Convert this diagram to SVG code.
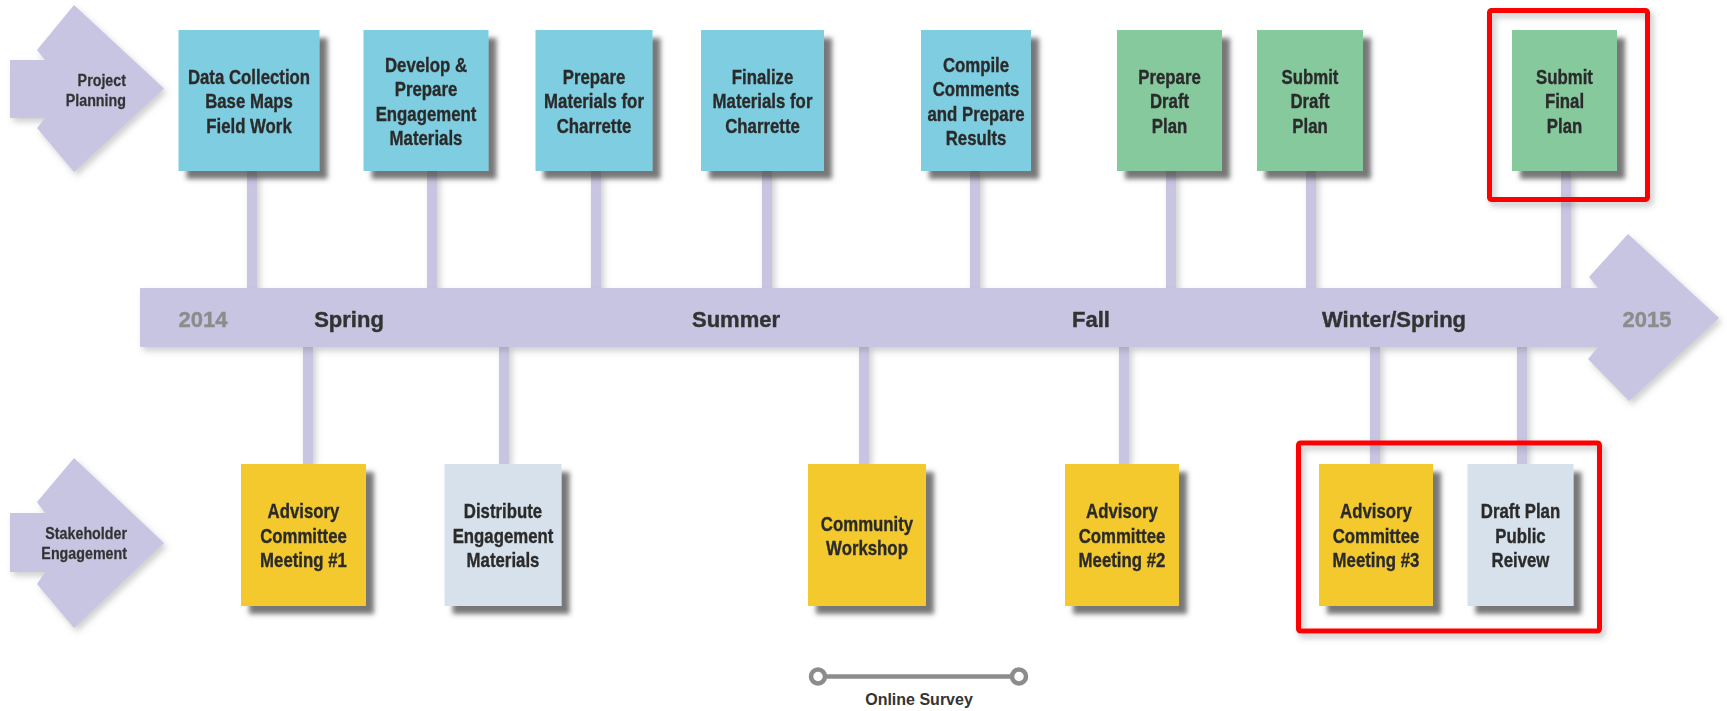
<svg xmlns="http://www.w3.org/2000/svg" width="1727" height="711" viewBox="0 0 1727 711">
<defs>
<filter id="boxShadow" x="-20%" y="-20%" width="150%" height="150%">
<feGaussianBlur in="SourceAlpha" stdDeviation="2.5" result="b"/>
<feOffset in="b" dx="8" dy="8" result="o"/>
<feFlood flood-color="#4a4a4a" flood-opacity="0.75"/>
<feComposite in2="o" operator="in" result="s"/>
<feMerge><feMergeNode in="s"/><feMergeNode in="SourceGraphic"/></feMerge>
</filter>
<filter id="softShadow" x="-10%" y="-10%" width="130%" height="130%">
<feGaussianBlur in="SourceAlpha" stdDeviation="3" result="b"/>
<feOffset in="b" dx="3" dy="4" result="o"/>
<feFlood flood-color="#777" flood-opacity="0.35"/>
<feComposite in2="o" operator="in" result="s"/>
<feMerge><feMergeNode in="s"/><feMergeNode in="SourceGraphic"/></feMerge>
</filter>
<filter id="redShadow" x="-10%" y="-10%" width="130%" height="130%">
<feGaussianBlur in="SourceAlpha" stdDeviation="3" result="b"/>
<feOffset in="b" dx="3" dy="4" result="o"/>
<feFlood flood-color="#666" flood-opacity="0.4"/>
<feComposite in2="o" operator="in" result="s"/>
<feMerge><feMergeNode in="s"/><feMergeNode in="SourceGraphic"/></feMerge>
</filter>
</defs>
<style>
.lav{fill:#c8c5e3}
.stem{fill:#c8c5e3}
.blue{fill:#7ecde0}
.green{fill:#85c99d}
.yellow{fill:#f3c92f}
.grey{fill:#d6e1eb}
.bt{font-family:"Liberation Sans",Arial,sans-serif;font-weight:bold;font-size:20px;fill:#2b2b2b;stroke:#2b2b2b;stroke-width:0.35;text-anchor:middle}
.at{font-family:"Liberation Sans",Arial,sans-serif;font-weight:bold;font-size:17px;fill:#333;stroke:#333;stroke-width:0.25;text-anchor:end}
.season{font-family:"Liberation Sans",Arial,sans-serif;font-weight:bold;font-size:22px;fill:#333;stroke:#333;stroke-width:0.4;text-anchor:middle}
.year{font-family:"Liberation Sans",Arial,sans-serif;font-weight:bold;font-size:22px;fill:#8c8c8c;stroke:#8c8c8c;stroke-width:0.4;text-anchor:middle}
.red{fill:none;stroke:#ff0000;stroke-width:5}
.survey{fill:none;stroke:#8c8c8c;stroke-width:4.5}
.st{font-family:"Liberation Sans",Arial,sans-serif;font-weight:bold;font-size:16px;fill:#333;text-anchor:middle}
</style>
<rect width="1727" height="711" fill="#ffffff"/>

<g id="lane-project-planning" filter="url(#softShadow)">
<polygon class="lav" points="10,60 45,60 37,50 74,5 164,88.5 74,172 37,128 45,118 10,118"/>
<g transform="translate(126 0) scale(0.84 1)">
<text class="at" x="0" y="86">Project</text>
<text class="at" x="0" y="106.5">Planning</text>
</g>
</g>
<g id="lane-stakeholder-engagement" filter="url(#softShadow)">
<polygon class="lav" points="10,513 45,513 37,502 74,458 164,543 74,628 37,584 45,572 10,572"/>
<g transform="translate(127 0) scale(0.84 1)">
<text class="at" x="0" y="539">Stakeholder</text>
<text class="at" x="0" y="559.5">Engagement</text>
</g>
</g>

<g id="connectors" filter="url(#softShadow)">
<rect class="stem" x="247" y="171" width="10" height="119"/>
<rect class="stem" x="427" y="171" width="10" height="119"/>
<rect class="stem" x="591" y="171" width="10" height="119"/>
<rect class="stem" x="762" y="171" width="10" height="119"/>
<rect class="stem" x="970" y="171" width="10" height="119"/>
<rect class="stem" x="1166" y="171" width="10" height="119"/>
<rect class="stem" x="1306" y="171" width="10" height="119"/>
<rect class="stem" x="1561" y="171" width="10" height="119"/>
<rect class="stem" x="303" y="345" width="10" height="119"/>
<rect class="stem" x="499" y="345" width="10" height="119"/>
<rect class="stem" x="859" y="345" width="10" height="119"/>
<rect class="stem" x="1119" y="345" width="10" height="119"/>
<rect class="stem" x="1370" y="345" width="10" height="119"/>
<rect class="stem" x="1517" y="345" width="10" height="119"/>
</g>

<g id="timeline" filter="url(#softShadow)">
<polygon class="lav" points="140,288 1598,288 1589,277 1628,234 1719,318 1629,401 1588,359 1598,347 140,347"/>
<text class="year" x="203" y="327">2014</text>
<text class="season" x="349" y="327">Spring</text>
<text class="season" x="736" y="327">Summer</text>
<text class="season" x="1091" y="327">Fall</text>
<text class="season" x="1394" y="327">Winter/Spring</text>
<text class="year" x="1647" y="327">2015</text>
</g>

<g id="data-collection" filter="url(#boxShadow)">
<rect class="blue" x="178.5" y="30" width="141" height="141"/>
<g transform="translate(249 0) scale(0.84 1)">
<text class="bt" x="0" y="84">Data Collection</text>
<text class="bt" x="0" y="108.5">Base Maps</text>
<text class="bt" x="0" y="133">Field Work</text>
</g>
</g>
<g id="develop-materials" filter="url(#boxShadow)">
<rect class="blue" x="363.5" y="30" width="125" height="141"/>
<g transform="translate(426 0) scale(0.84 1)">
<text class="bt" x="0" y="71.75">Develop &amp;</text>
<text class="bt" x="0" y="96.25">Prepare</text>
<text class="bt" x="0" y="120.75">Engagement</text>
<text class="bt" x="0" y="145.25">Materials</text>
</g>
</g>
<g id="prepare-charrette" filter="url(#boxShadow)">
<rect class="blue" x="535.5" y="30" width="117" height="141"/>
<g transform="translate(594 0) scale(0.84 1)">
<text class="bt" x="0" y="84">Prepare</text>
<text class="bt" x="0" y="108.5">Materials for</text>
<text class="bt" x="0" y="133">Charrette</text>
</g>
</g>
<g id="finalize-charrette" filter="url(#boxShadow)">
<rect class="blue" x="701" y="30" width="123" height="141"/>
<g transform="translate(762.5 0) scale(0.84 1)">
<text class="bt" x="0" y="84">Finalize</text>
<text class="bt" x="0" y="108.5">Materials for</text>
<text class="bt" x="0" y="133">Charrette</text>
</g>
</g>
<g id="compile-comments" filter="url(#boxShadow)">
<rect class="blue" x="921" y="30" width="110" height="141"/>
<g transform="translate(976 0) scale(0.84 1)">
<text class="bt" x="0" y="71.75">Compile</text>
<text class="bt" x="0" y="96.25">Comments</text>
<text class="bt" x="0" y="120.75">and Prepare</text>
<text class="bt" x="0" y="145.25">Results</text>
</g>
</g>
<g id="prepare-draft-plan" filter="url(#boxShadow)">
<rect class="green" x="1117" y="30" width="105" height="141"/>
<g transform="translate(1169.5 0) scale(0.84 1)">
<text class="bt" x="0" y="84">Prepare</text>
<text class="bt" x="0" y="108.5">Draft</text>
<text class="bt" x="0" y="133">Plan</text>
</g>
</g>
<g id="submit-draft-plan" filter="url(#boxShadow)">
<rect class="green" x="1257" y="30" width="106" height="141"/>
<g transform="translate(1310 0) scale(0.84 1)">
<text class="bt" x="0" y="84">Submit</text>
<text class="bt" x="0" y="108.5">Draft</text>
<text class="bt" x="0" y="133">Plan</text>
</g>
</g>
<g id="submit-final-plan" filter="url(#boxShadow)">
<rect class="green" x="1512" y="30" width="105" height="141"/>
<g transform="translate(1564.5 0) scale(0.84 1)">
<text class="bt" x="0" y="84">Submit</text>
<text class="bt" x="0" y="108.5">Final</text>
<text class="bt" x="0" y="133">Plan</text>
</g>
</g>

<g id="advisory-1" filter="url(#boxShadow)">
<rect class="yellow" x="241" y="464" width="125" height="142"/>
<g transform="translate(303.5 0) scale(0.84 1)">
<text class="bt" x="0" y="518.5">Advisory</text>
<text class="bt" x="0" y="543">Committee</text>
<text class="bt" x="0" y="567.5">Meeting #1</text>
</g>
</g>
<g id="distribute-materials" filter="url(#boxShadow)">
<rect class="grey" x="444.5" y="464" width="117" height="142"/>
<g transform="translate(503 0) scale(0.84 1)">
<text class="bt" x="0" y="518.5">Distribute</text>
<text class="bt" x="0" y="543">Engagement</text>
<text class="bt" x="0" y="567.5">Materials</text>
</g>
</g>
<g id="community-workshop" filter="url(#boxShadow)">
<rect class="yellow" x="808" y="464" width="118" height="142"/>
<g transform="translate(867 0) scale(0.84 1)">
<text class="bt" x="0" y="530.75">Community</text>
<text class="bt" x="0" y="555.25">Workshop</text>
</g>
</g>
<g id="advisory-2" filter="url(#boxShadow)">
<rect class="yellow" x="1065" y="464" width="114" height="142"/>
<g transform="translate(1122 0) scale(0.84 1)">
<text class="bt" x="0" y="518.5">Advisory</text>
<text class="bt" x="0" y="543">Committee</text>
<text class="bt" x="0" y="567.5">Meeting #2</text>
</g>
</g>
<g id="advisory-3" filter="url(#boxShadow)">
<rect class="yellow" x="1319" y="464" width="114" height="142"/>
<g transform="translate(1376 0) scale(0.84 1)">
<text class="bt" x="0" y="518.5">Advisory</text>
<text class="bt" x="0" y="543">Committee</text>
<text class="bt" x="0" y="567.5">Meeting #3</text>
</g>
</g>
<g id="draft-plan-review" filter="url(#boxShadow)">
<rect class="grey" x="1467.5" y="464" width="106" height="142"/>
<g transform="translate(1520.5 0) scale(0.84 1)">
<text class="bt" x="0" y="518.5">Draft Plan</text>
<text class="bt" x="0" y="543">Public</text>
<text class="bt" x="0" y="567.5">Reivew</text>
</g>
</g>

<g id="highlights" filter="url(#redShadow)">
<rect class="red" x="1489.5" y="10.5" width="158" height="189" rx="2"/>
<rect class="red" x="1298.5" y="443" width="301" height="188" rx="2"/>
</g>

<g id="online-survey">
<line class="survey" x1="825" y1="676.5" x2="1012" y2="676.5"/>
<circle class="survey" cx="818" cy="676.5" r="7" fill="#fff"/>
<circle class="survey" cx="1019" cy="676.5" r="7" fill="#fff"/>
<text class="st" x="919" y="705">Online Survey</text>
</g>
</svg>
